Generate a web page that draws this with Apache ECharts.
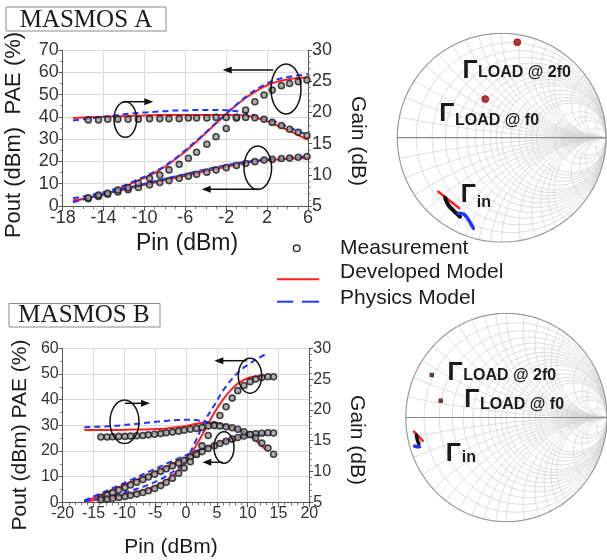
<!DOCTYPE html>
<html><head><meta charset="utf-8">
<script src="https://cdn.jsdelivr.net/npm/echarts@6/dist/echarts.min.js"></script>
<style>html,body{margin:0;padding:0;background:#fff}#c{width:607px;height:560px}</style>
</head><body><div id="c"></div>
<script>
// ---------------- MASMOS A data ----------------
const pinMeasA  = [-15.5,-14.5,-13.6,-12.6,-11.6,-10.6,-9.5,-8.5,-7.6,-6.6,-5.7,-4.9,-3.9,-3.0,-2.0,-1.0,-0.1,0.8,1.7,2.5,3.4,4.2,5.05,5.9];
const poutMeasA = [3.3,4.3,5.3,6.3,7.3,8.3,9.5,10.5,11.4,12.4,13.4,14.2,15.2,16.2,17.2,18.2,19.1,19.9,20.6,20.9,21.3,21.5,21.9,22.2];
const paeMeasA  = [3.7,4.9,5.7,7.2,8.2,10.2,12.4,13.9,16.2,18.7,21.4,24.1,27.7,31.1,34.8,39.5,43.1,46.8,49.8,52.0,54.0,55.0,55.8,56.5];
const gainMeasA = [18.8,18.8,18.9,18.9,18.9,18.9,19.0,19.0,19.0,19.0,19.1,19.1,19.1,19.2,19.2,19.2,19.2,19.15,18.9,18.4,17.9,17.3,16.8,16.3];

const pinModelA = [-17,-16,-15,-14,-13,-12,-11,-10,-9,-8,-7,-6,-5,-4,-3,-2,-1,0,1,2,3,4,5,6];
const poutDevA  = [2.1,3.2,4.25,5.3,6.35,7.4,8.45,9.5,10.55,11.6,12.6,13.6,14.6,15.6,16.6,17.6,18.55,19.45,20.1,20.6,20.9,21.2,21.4,21.6];
const paeDevA   = [2.5,3.3,4.2,5.2,6.6,8.6,10.6,12.6,14.9,17.6,21.0,24.5,28.5,32.8,37.0,41.3,45.3,48.8,51.8,54.2,55.8,56.8,57.4,57.7];
const gainDevA  = [19.1,19.2,19.25,19.3,19.35,19.4,19.45,19.5,19.55,19.6,19.6,19.6,19.6,19.6,19.6,19.6,19.55,19.45,19.1,18.6,17.9,17.2,16.4,15.6];
const poutPhyA  = [1.7,2.9,4.1,5.3,6.5,7.7,8.85,10.0,11.1,12.2,13.3,14.3,15.4,16.4,17.4,18.35,19.2,19.9,20.4,20.9,21.2,21.7,22.0,22.4];
const paePhyA   = [3.5,4.3,5.2,6.2,7.5,9.2,11.2,13.2,15.4,18.0,21.3,25.0,29.0,33.0,37.3,41.5,45.5,49.3,52.5,55.0,56.8,57.9,58.6,59.1];
const gainPhyA  = [18.7,18.9,19.1,19.3,19.5,19.7,19.85,20.0,20.1,20.2,20.3,20.3,20.4,20.4,20.4,20.35,20.2,19.9,19.4,18.9,18.4,17.7,17.0,16.4];

// ---------------- MASMOS B data ----------------
const pinMeasB  = [-13.8,-12.8,-11.9,-10.9,-9.9,-9.0,-8.0,-7.0,-6.1,-5.1,-4.1,-3.2,-2.2,-1.2,-0.3,0.7,1.7,2.6,3.6,4.6,5.5,6.5,7.5,8.4,9.4,10.4,11.3,12.3,13.3,14.2];
const poutMeasB = [1.8,2.8,3.75,4.8,5.8,6.75,7.8,8.85,9.85,10.95,12.05,13.1,14.2,15.35,16.4,17.55,18.7,19.75,21.0,22.05,22.9,23.75,24.6,25.25,25.85,26.4,26.7,26.9,27.1,27.0];
const paeMeasB  = [1.0,1.3,1.6,1.9,2.3,2.7,3.2,3.8,4.5,5.4,6.5,7.8,9.4,11.3,13.4,15.8,18.6,22.0,26.0,30.2,33.8,37.2,40.6,43.5,45.5,47.0,48.0,48.6,48.9,48.9];
const gainMeasB = [15.6,15.6,15.65,15.7,15.7,15.75,15.8,15.85,15.95,16.05,16.15,16.3,16.4,16.55,16.7,16.85,17.0,17.15,17.4,17.45,17.4,17.25,17.1,16.85,16.45,16.0,15.4,14.6,13.8,12.8];

const pinModelB = [-16.5,-15,-13.5,-12,-10.5,-9,-7.5,-6,-4.5,-3,-1.5,0,1.5,3,4.5,6,7.5,9,10.5,12,13];
const poutDevB  = [0.3,1.75,3.25,4.75,6.25,7.8,9.3,10.85,12.4,14.0,15.7,17.4,19.2,20.95,22.4,23.6,24.65,25.6,26.2,26.4,26.5];
const paeDevB   = [0.3,0.8,1.3,1.9,2.6,3.3,4.2,5.3,6.8,8.8,11.8,15.8,21.5,28.0,34.5,40.0,44.3,47.2,48.7,49.2,49.3];
const gainDevB  = [16.75,16.75,16.75,16.75,16.75,16.8,16.8,16.85,16.9,17.0,17.2,17.4,17.7,17.95,17.9,17.6,17.15,16.6,15.7,14.4,13.5];
const poutPhyB  = [0.7,2.25,3.8,5.4,7.0,8.65,10.3,11.95,13.6,15.25,16.85,18.4,19.85,21.1,22.3,23.5,24.6,25.6,26.3,26.6,26.8];
const paePhyB   = [0.5,1.1,1.8,2.6,3.5,4.5,5.6,6.9,8.5,10.5,13.0,16.5,23.5,31.5,37.5,43.5,48.2,51.8,54.3,56.5,57.8];
const gainPhyB  = [17.2,17.25,17.3,17.4,17.5,17.65,17.8,17.95,18.1,18.25,18.35,18.4,18.35,18.1,17.8,17.5,17.1,16.6,15.8,14.6,13.8];

// ---------------- Smith chart data (reflection coefficient, re/im) ----------------
const smithR = [0.1,0.2,0.3,0.4,0.5,0.6,0.7,0.8,0.9,1,1.2,1.4,1.6,1.8,2,3,4,5,10];
const smithX = [0.1,0.2,0.3,0.4,0.5,0.6,0.7,0.8,0.9,1,1.2,1.4,1.6,1.8,2,3,4,5,10];
const gLoadF0A = [[-0.158,0.370]];
const gLoad2F0A = [[0.149,0.914]];
const gInMeasA = [[-0.543,-0.575],[-0.511,-0.645],[-0.466,-0.693],[-0.399,-0.757]];
const gInDevA  = [[-0.607,-0.517],[-0.406,-0.676]];
const gInPhyA  = [[-0.416,-0.724],[-0.352,-0.740],[-0.272,-0.868]];
const gLoadF0B = [[-0.653,0.161]];
const gLoad2F0B = [[-0.742,0.408]];
const gInMeasB = [[-0.895,-0.168],[-0.885,-0.215],[-0.870,-0.254]];
const gInDevB  = [[-0.918,-0.136],[-0.832,-0.223]];
const gInPhyB  = [[-0.912,-0.274],[-0.890,-0.280],[-0.864,-0.280]];

// ---------------- helpers ----------------
const FONT = 'Liberation Sans, Arial, sans-serif';
const zip = (xs, ys) => xs.map((x, i) => [x, ys[i]]);
const RED = '#ff1f1f', BLUE = '#2035ff';

function rCircle(r) {
  const c = r / (1 + r), rad = 1 / (1 + r), pts = [];
  for (let i = 0; i <= 120; i++) { const t = i / 120 * 2 * Math.PI; pts.push([c + rad * Math.cos(t), rad * Math.sin(t)]); }
  return pts;
}
function xArc(x) {
  const pts = [];
  for (let i = 0; i <= 80; i++) {
    const u = i / 80; const r = u >= 1 ? 1e6 : u / (1 - u);
    const d = (r + 1) * (r + 1) + x * x;
    pts.push([(r * r - 1 + x * x) / d, 2 * x / d]);
  }
  return pts;
}
function smithGridData() {
  const arr = [];
  smithR.forEach(r => arr.push({ coords: rCircle(r) }));
  smithX.forEach(x => { arr.push({ coords: xArc(x) }); arr.push({ coords: xArc(-x) }); });
  return arr;
}

function xAx(gi, min, max, interval, minor, fs) {
  return { type: 'value', gridIndex: gi, min, max, interval,
    axisLine: { show: true, onZero: false, lineStyle: { color: '#555', width: 1 } },
    axisTick: { show: true, length: 5, lineStyle: { color: '#555' } },
    minorTick: { show: true, splitNumber: minor, length: 3, lineStyle: { color: '#777' } },
    splitLine: { show: true, lineStyle: { color: '#dadada', width: 1 } },
    axisLabel: { color: '#333', fontSize: fs, margin: 3, fontFamily: FONT } };
}
function yAx(gi, min, max, interval, minor, pos, split, fs) {
  return { type: 'value', gridIndex: gi, min, max, interval, position: pos,
    axisLine: { show: true, onZero: false, lineStyle: { color: '#555', width: 1 } },
    axisTick: { show: true, length: 4, lineStyle: { color: '#555' } },
    minorTick: { show: true, splitNumber: minor, length: 2.5, lineStyle: { color: '#777' } },
    splitLine: { show: split, lineStyle: { color: '#dadada', width: 1 } },
    axisLabel: { color: '#333', fontSize: fs, margin: 4, fontFamily: FONT } };
}
function meas(name, xi, yi, data) {
  return { name, type: 'scatter', xAxisIndex: xi, yAxisIndex: yi, data, symbol: 'circle', symbolSize: 6, z: 4,
    itemStyle: { color: '#9a9a9a', borderColor: '#1a1a1a', borderWidth: 1.6 } };
}
function mline(name, xi, yi, data, color, dashed) {
  return { name, type: 'line', xAxisIndex: xi, yAxisIndex: yi, data, smooth: 0.35, showSymbol: false, z: 3,
    lineStyle: { color, width: 2, type: dashed ? [6, 4] : 'solid' } };
}
function gline(xi, yi, data, color, width) {
  return { type: 'line', xAxisIndex: xi, yAxisIndex: yi, data, showSymbol: false, z: 5, smooth: 0.3,
    lineStyle: { color, width, cap: 'round' } };
}

// graphic helpers
function txt(x, y, text, font, align, rot) {
  return { type: 'text', x, y, rotation: rot || 0, z: 100,
    style: { text, font, fill: '#1a1a1a', align: align || 'left', verticalAlign: 'middle', textAlign: align || 'left', textVerticalAlign: 'middle' } };
}
function ell(cx, cy, rx, ry) {
  return { type: 'ellipse', z: 100, shape: { cx, cy, rx, ry }, style: { fill: 'none', stroke: '#111', lineWidth: 1.5 } };
}
function arrow(x1, y, x2) {
  const d = Math.sign(x2 - x1), hl = 9, hw = 3.5;
  return [
    { type: 'line', z: 100, shape: { x1, y1: y, x2: x2 - d * hl * 0.7, y2: y }, style: { stroke: '#111', lineWidth: 1.5 } },
    { type: 'polygon', z: 100, shape: { points: [[x2, y], [x2 - d * hl, y - hw], [x2 - d * hl, y + hw]] }, style: { fill: '#111' } }
  ];
}

const grids = [
  { left: 62.7, top: 50, width: 245.3, height: 156 },
  { left: 62.7, top: 348.3, width: 246.6, height: 154 },
  { left: 397.3, top: 33.3, width: 208.8, height: 208.8 },
  { left: 405.8, top: 313.3, width: 208.4, height: 208.4 }
];

const smithHidden = gi => ({ type: 'value', gridIndex: gi, min: -1, max: 1, show: false });

const series = [
  // Panel A
  mline('Developed Model', 0, 0, zip(pinModelA, poutDevA), RED, false),
  mline('Developed Model', 0, 0, zip(pinModelA, paeDevA), RED, false),
  mline('Developed Model', 0, 1, zip(pinModelA, gainDevA), RED, false),
  mline('Physics Model', 0, 0, zip(pinModelA, poutPhyA), BLUE, true),
  mline('Physics Model', 0, 0, zip(pinModelA, paePhyA), BLUE, true),
  mline('Physics Model', 0, 1, zip(pinModelA, gainPhyA), BLUE, true),
  meas('Measurement', 0, 0, zip(pinMeasA, poutMeasA)),
  meas('Measurement', 0, 0, zip(pinMeasA, paeMeasA)),
  meas('Measurement', 0, 1, zip(pinMeasA, gainMeasA)),
  // Panel B
  mline('Developed Model', 1, 2, zip(pinModelB, poutDevB), RED, false),
  mline('Developed Model', 1, 2, zip(pinModelB, paeDevB), RED, false),
  mline('Developed Model', 1, 3, zip(pinModelB, gainDevB), RED, false),
  mline('Physics Model', 1, 2, zip(pinModelB, poutPhyB), BLUE, true),
  mline('Physics Model', 1, 2, zip(pinModelB, paePhyB), BLUE, true),
  mline('Physics Model', 1, 3, zip(pinModelB, gainPhyB), BLUE, true),
  meas('Measurement', 1, 2, zip(pinMeasB, poutMeasB)),
  meas('Measurement', 1, 2, zip(pinMeasB, paeMeasB)),
  meas('Measurement', 1, 3, zip(pinMeasB, gainMeasB)),
];

// Smith charts
[[2, 4], [3, 5]].forEach(([xi, yi]) => {
  series.push({ type: 'lines', coordinateSystem: 'cartesian2d', xAxisIndex: xi, yAxisIndex: yi, polyline: true, silent: true, z: 1,
    data: smithGridData(), lineStyle: { color: '#d4d4d4', width: 0.8, opacity: 1 } });
  series.push({ type: 'line', xAxisIndex: xi, yAxisIndex: yi, data: rCircle(0), showSymbol: false, silent: true, z: 2,
    lineStyle: { color: '#9a9a9a', width: 1.2 } });
  series.push({ type: 'line', xAxisIndex: xi, yAxisIndex: yi, data: [[-1, 0], [1, 0]], showSymbol: false, silent: true, z: 2,
    lineStyle: { color: '#8a8a8a', width: 1.2 } });
});
series.push(gline(2, 4, gInDevA, RED, 2.5), gline(2, 4, gInMeasA, '#111', 4), gline(2, 4, gInPhyA, BLUE, 3.5));
series.push({ type: 'scatter', xAxisIndex: 2, yAxisIndex: 4, data: gLoadF0A.concat(gLoad2F0A), symbolSize: 7, z: 6,
  itemStyle: { color: '#b00000', borderColor: '#600', borderWidth: 0.8 } });
series.push(gline(3, 5, gInDevB, RED, 2.5), gline(3, 5, gInMeasB, '#111', 3.5), gline(3, 5, gInPhyB, BLUE, 3.5));
series.push({ type: 'scatter', xAxisIndex: 3, yAxisIndex: 5, data: gLoadF0B.concat(gLoad2F0B), symbol: 'rect', symbolSize: 4.5, z: 6,
  itemStyle: { color: '#4a0a0a' } });

const G = [];
// titles
G.push({ type: 'rect', z: 100, shape: { x: 6, y: 7, width: 160, height: 24 }, style: { fill: '#fff', stroke: '#8a8a8a', lineWidth: 1 } });
G.push(txt(86, 20, 'MASMOS A', '25px Liberation Serif', 'center'));
G.push({ type: 'rect', z: 100, shape: { x: 9, y: 303.5, width: 151, height: 23.5 }, style: { fill: '#fff', stroke: '#8a8a8a', lineWidth: 1 } });
G.push(txt(84, 315.5, 'MASMOS B', '25px Liberation Serif', 'center'));
// axis titles
G.push(txt(14, 135, 'Pout (dBm)  PAE (%)', '22px ' + FONT, 'center', Math.PI / 2));
G.push(txt(358, 141, 'Gain (dB)', '21px ' + FONT, 'center', -Math.PI / 2));
G.push(txt(187, 244, 'Pin (dBm)', '23px ' + FONT, 'center'));
G.push(txt(20, 435, 'Pout (dBm) PAE (%)', '21px ' + FONT, 'center', Math.PI / 2));
G.push(txt(357, 440, 'Gain (dB)', '21px ' + FONT, 'center', -Math.PI / 2));
G.push(txt(171, 547, 'Pin (dBm)', '21px ' + FONT, 'center'));
// legend
G.push({ type: 'circle', z: 100, shape: { cx: 296.7, cy: 248.3, r: 3.3 }, style: { fill: '#fff', stroke: '#333', lineWidth: 1.5 } });
G.push({ type: 'line', z: 100, shape: { x1: 277, y1: 279.3, x2: 319, y2: 279.3 }, style: { stroke: RED, lineWidth: 2 } });
G.push({ type: 'line', z: 100, shape: { x1: 277, y1: 301.7, x2: 293.3, y2: 301.7 }, style: { stroke: BLUE, lineWidth: 2 } });
G.push({ type: 'line', z: 100, shape: { x1: 302, y1: 301.7, x2: 319, y2: 301.7 }, style: { stroke: BLUE, lineWidth: 2 } });
G.push(txt(340, 248, 'Measurement', '21px ' + FONT));
G.push(txt(340, 272, 'Developed Model', '21px ' + FONT));
G.push(txt(340, 298.5, 'Physics Model', '21px ' + FONT));
// annotations A
G.push(ell(125.3, 119.5, 11.3, 17.8)); G.push(...arrow(123, 101.7, 153.3));
G.push(ell(286, 89, 15, 25)); G.push(...arrow(273.3, 70, 222.7));
G.push(ell(257.8, 167.7, 13.8, 21.7)); G.push(...arrow(260, 189.3, 201.7));
// annotations B
G.push(ell(124.5, 421.7, 14.5, 21.7)); G.push(...arrow(125, 403.3, 150));
G.push(ell(250, 375.8, 11.7, 17.5)); G.push(...arrow(246.7, 360.7, 214.3));
G.push(ell(224, 447.5, 10, 15.8)); G.push(...arrow(222.7, 462.3, 202.3));
// Smith labels A
const GB = 'bold 25px ' + FONT, SB = 'bold 16px ' + FONT;
G.push(txt(470, 71, 'Γ', GB, 'center')); G.push(txt(478, 72.5, 'LOAD @ 2f0', SB));
G.push(txt(446.7, 114, 'Γ', GB, 'center')); G.push(txt(455, 121, 'LOAD @ f0', SB));
G.push(txt(468.3, 195, 'Γ', GB, 'center')); G.push(txt(476.7, 202.5, 'in', SB));
// Smith labels B
G.push(txt(455, 373.3, 'Γ', GB, 'center')); G.push(txt(463.3, 376, 'LOAD @ 2f0', SB));
G.push(txt(471.7, 400, 'Γ', GB, 'center')); G.push(txt(480, 405, 'LOAD @ f0', SB));
G.push(txt(453.3, 454, 'Γ', GB, 'center')); G.push(txt(461.7, 458, 'in', SB));

const option = {
  animation: false,
  backgroundColor: '#fff',
  grid: grids.map(g => Object.assign({ containLabel: false, show: false }, g)),
  xAxis: [xAx(0, -18, 6, 4, 4, 18), xAx(1, -20, 20, 5, 5, 16), smithHidden(2), smithHidden(3)],
  yAxis: [
    yAx(0, 0, 70, 10, 2, 'left', true, 18), yAx(0, 5, 30, 5, 5, 'right', false, 18),
    yAx(1, 0, 60, 10, 2, 'left', true, 16), yAx(1, 5, 30, 5, 5, 'right', false, 16),
    smithHidden(2), smithHidden(3)
  ],
  series,
  graphic: { elements: G }
};
const chart = echarts.init(document.getElementById('c'), null, { renderer: 'canvas' });
chart.setOption(option);
</script></body></html>
